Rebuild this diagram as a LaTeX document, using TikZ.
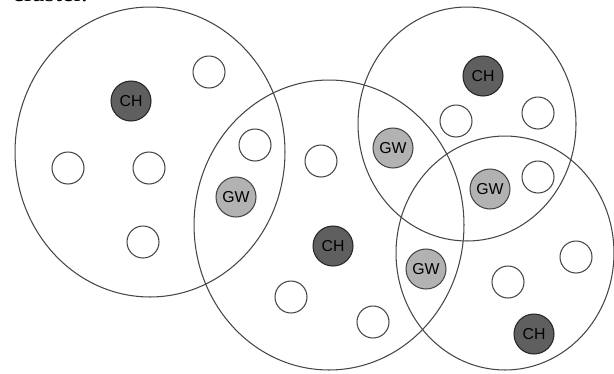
\documentclass[tikz,border=0pt]{standalone}
\usepackage{fontspec}
\setmainfont{Liberation Serif}
\setsansfont{Liberation Sans}
\usepackage{xcolor}
\definecolor{cLine}{RGB}{70,70,70}
\definecolor{cHead}{RGB}{95,95,95}
\definecolor{cGate}{RGB}{178,178,178}
\tikzset{
	cluster/.style={draw=cLine, line width=0.6pt},
	member/.style ={circle, draw=cLine, line width=0.6pt, fill=white, minimum size=0.64cm, inner sep=0pt},
	head/.style   ={circle, draw=black!85, line width=0.6pt, fill=cHead, minimum size=0.8cm, inner sep=0pt, font=\sffamily\small},
	gate/.style   ={circle, draw=cLine, line width=0.6pt, fill=cGate, minimum size=0.8cm, inner sep=0pt, font=\sffamily\small},
}

\begin{document}
\begin{tikzpicture}[x=0.02cm, y=-0.02cm]
	\useasboundingbox (0,0) rectangle (614,373);
	\node[anchor=base west, inner sep=0pt, font=\fontsize{15}{18}\selectfont] (caption) at (12,1.5) {cluster.};
	% ---- cluster ranges ----
	\draw[cluster] (150,152) ellipse [x radius=2.7cm, y radius=2.9cm];
	\draw[cluster] (329,225) ellipse [x radius=2.7cm, y radius=2.9cm];
	\draw[cluster] (467,124) ellipse [x radius=2.18cm, y radius=2.34cm];
	\draw[cluster] (505,253) ellipse [x radius=2.18cm, y radius=2.34cm];
	% ---- left cluster ----
	\node[head]   (chA) at (131,101) {CH};
	\node[member] (a1)  at (209,72)  {};
	\node[member] (a2)  at (68,168)  {};
	\node[member] (a3)  at (149,168) {};
	\node[member] (a4)  at (143,242) {};
	\node[member] (a5)  at (255,145) {};
	\node[gate]   (gwA) at (236,197) {GW};
	% ---- middle cluster ----
	\node[member] (b1)  at (291,297) {};
	\node[member] (b2)  at (321,161) {};
	\node[head]   (chB) at (333,246) {CH};
	\node[member] (b3)  at (373,322) {};
	\node[gate]   (gwB) at (426,269) {GW};
	\node[gate]   (gwC) at (393,148) {GW};
	% ---- top right cluster ----
	\node[head]   (chC) at (483,76)  {CH};
	\node[member] (c1)  at (456,121) {};
	\node[member] (c2)  at (538,113) {};
	\node[gate]   (gwD) at (490,189) {GW};
	\node[member] (c3)  at (538,177) {};
	% ---- bottom right cluster ----
	\node[member] (d1)  at (576,257) {};
	\node[member] (d2)  at (508,282) {};
	\node[head]   (chD) at (534,334) {CH};
\end{tikzpicture}
\end{document}
